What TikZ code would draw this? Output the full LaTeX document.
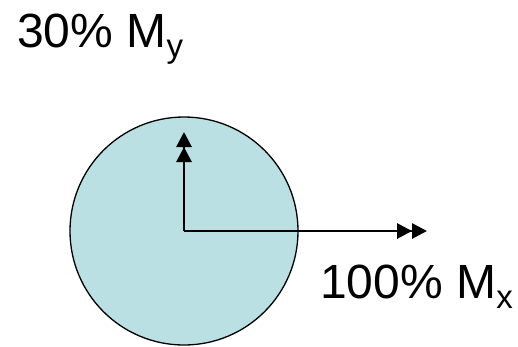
\documentclass[tikz,border=0pt]{standalone}
\usepackage{fontspec}
\setmainfont{Liberation Sans}
\usepackage{tikz}
\usetikzlibrary{arrows.meta}
\usepackage{xcolor}
\definecolor{diskfill}{RGB}{187,224,227}
\newcommand{\momsub}[1]{\raisebox{-10pt}{\fontsize{33}{33}\selectfont #1}}

\begin{document}
\begin{tikzpicture}[x=1pt,y=-1pt,
  lbl/.style={inner sep=0pt,anchor=base west,font=\fontsize{48}{54}\selectfont},
  vec/.style={line width=2.8pt,-{Triangle[length=15pt,width=15pt]Triangle[length=15pt,width=15pt]}}]
\useasboundingbox (0,0) rectangle (518,346);
\node[circle,draw,line width=1.3pt,fill=diskfill,minimum size=228pt,inner sep=0pt] (disk) at (184,231) {};
\coordinate (ytip) at (184,132);
\coordinate (xtip) at (427,231);
\draw[vec] (disk.center) -- (ytip);
\draw[vec] (disk.center) -- (xtip);
\node[lbl] (my) at (17,47) {30\% M\momsub{y}};
\node[lbl] (mx) at (320,298) {100\% M\momsub{x}};
\end{tikzpicture}
\end{document}
